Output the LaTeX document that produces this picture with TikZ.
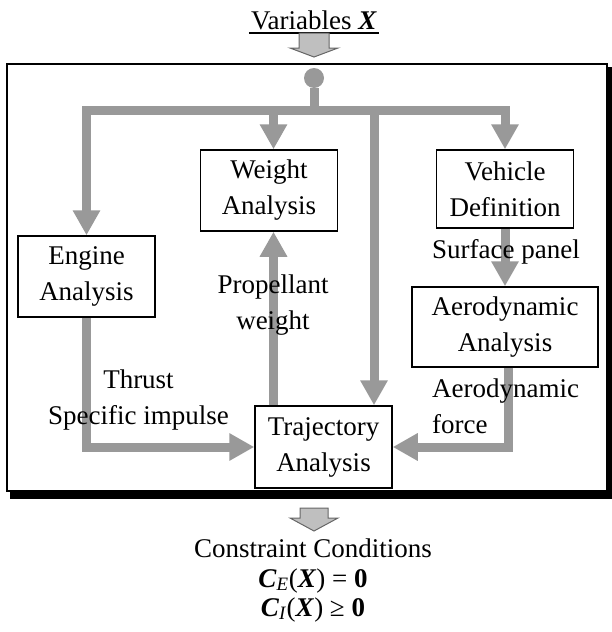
\documentclass[tikz,border=0pt]{standalone}
\usepackage{fontspec}
\setmainfont{Liberation Serif}
\usetikzlibrary{arrows.meta,positioning}
\tikzset{
    box/.style={rectangle, draw, fill=white, line width=1.5pt, minimum width=137pt, minimum height=81pt, inner sep=0pt, align=center},
    flow/.style={draw=black!40, line width=9pt, line join=miter},
    flowarrow/.style={flow, -{Triangle[length=25pt,width=26pt]}},
    note/.style={inner sep=0pt, align=center},
    bigarrow/.style={draw=black!60, fill=black!25, line width=1pt, line join=miter}
}
\begin{document}
\begin{tikzpicture}[x=1pt, y=-1pt, font=\fontsize{27}{36}\selectfont]
    \useasboundingbox (0,0) rectangle (611,632);

    % frame with shadow
    \fill (10,67) rectangle (612,499);
    \draw[fill=white, line width=1.5pt] (7,64) rectangle (607,491);

    % analysis blocks
    \node[box] (engine) at (86.5,276.5) {Engine\\Analysis};
    \node[box] (weight) at (269,190.5) {Weight\\Analysis};
    \node[box, minimum height=78pt] (vehicle) at (505,189) {Vehicle\\Definition};
    \node[box, minimum width=186pt, minimum height=80pt] (aero) at (505,327) {Aerodynamic\\Analysis};
    \node[box, minimum height=82pt] (traj) at (323.5,447) {Trajectory\\Analysis};

    % distribution of the variables
    \node[circle, fill=black!40, minimum size=20pt, inner sep=0pt] (dot) at (314,78) {};
    \coordinate (split) at (314,110.5);
    \coordinate (wcol) at ([xshift=4.5pt]weight.north);
    \coordinate (tcol) at ([xshift=50.5pt]traj.north);
    \coordinate (pcol) at ([xshift=-50pt]traj.north);
    \draw[flow] (dot) -- (split);
    \draw[flowarrow] (split) -| (engine.north);
    \draw[flowarrow] (split) -| (vehicle.north);
    \draw[flowarrow] (wcol |- split) -- (wcol);
    \draw[flowarrow] (tcol |- split) -- (tcol);

    % data flow between blocks
    \draw[flowarrow] (pcol) -- (pcol |- weight.south);
    \draw[flowarrow] (engine.south) |- (traj.west);
    \draw[flowarrow] (vehicle.south) -- (aero.north);
    \draw[flowarrow] ([xshift=3pt]aero.south) |- (traj.east);

    % labels
    \node[note] (surface) at (506,251.5) {Surface panel};
    \node[note, anchor=north west, align=left] (force) at (432,378.5) {Aerodynamic\\force};
    \node[note, anchor=north] (thrust) at (138.5,369.5) {Thrust\\Specific impulse};
    \node[note, anchor=north] (prop) at (273,275) {Propellant\\weight};

    % input
    \node[note, anchor=base] (vars) at (314,29) {Variables \textbf{\textit{X}}};
    \draw[line width=2pt] ([xshift=-2pt,yshift=-4pt]vars.base west) -- ([xshift=2pt,yshift=-4pt]vars.base east);
    \draw[bigarrow] (299,33) -- (329,33) -- (329,48) -- (338,48) -- (314,57) -- (290,48) -- (299,48) -- cycle;

    % output
    \draw[bigarrow] (300,508) -- (328,508) -- (328,518) -- (338,518) -- (314,531) -- (290,518) -- (300,518) -- cycle;
    \node[note, anchor=base] (cond) at (313,557) {Constraint Conditions};
    \node[note, anchor=base] (eq) at (313,587) {\textbf{\textit{C}}\textsubscript{\textit{E}}(\textbf{\textit{X}}) = \textbf{0}};
    \node[note, anchor=base] (ineq) at (313,616) {\textbf{\textit{C}}\textsubscript{\textit{I}}(\textbf{\textit{X}}) ≥ \textbf{0}};
\end{tikzpicture}
\end{document}
